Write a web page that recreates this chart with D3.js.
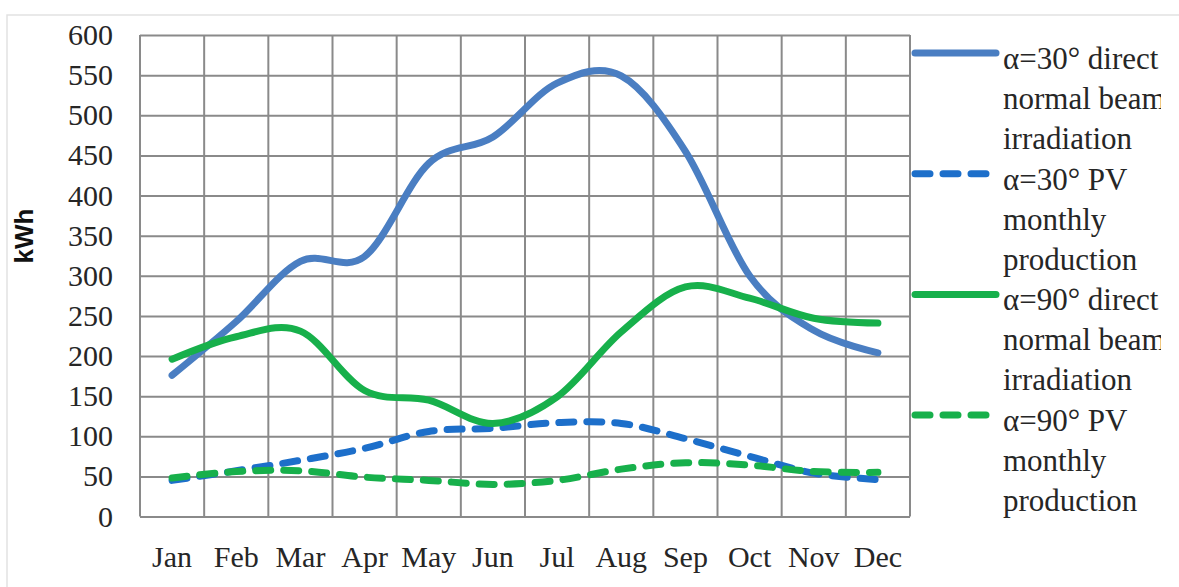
<!DOCTYPE html>
<html>
<head>
<meta charset="utf-8">
<script src="https://cdn.jsdelivr.net/npm/d3@7"></script>
<style>
  body { margin: 0; background: #fff; }
  svg { display: block; }
  .tick text { font-family: "Liberation Serif", "Times New Roman", serif; fill: #262626; }
  .legend text { font-family: "Liberation Serif", "Times New Roman", serif; fill: #262626; font-size: 31px; }
</style>
</head>
<body>
<svg id="chart"></svg>
<script>
// months on the x axis
const months = ["Jan", "Feb", "Mar", "Apr", "May", "Jun", "Jul", "Aug", "Sep", "Oct", "Nov", "Dec"];
const yTicks = [0, 50, 100, 150, 200, 250, 300, 350, 400, 450, 500, 550, 600];

// values (kWh)
const direct30 = [176, 243, 318, 324, 440, 473, 540, 549, 455, 300, 232, 204];
const pv30 = [45, 57, 70, 85, 106, 110, 117, 116, 97, 75, 54, 46];
const direct90 = [196, 224, 231, 157, 145, 116, 149, 230, 286, 272, 247, 241];
const pv90 = [48, 56, 57, 49, 45, 40, 45, 59, 67, 64, 56, 55];

const seriesNames = [
  ["α=30° direct", "normal beam", "irradiation"],
  ["α=30° PV", "monthly", "production"],
  ["α=90° direct", "normal beam", "irradiation"],
  ["α=90° PV", "monthly", "production"]
];

const width = 1179, height = 587;
const margin = { top: 35, left: 140, right: 269, bottom: 70.5 };
const plotW = width - margin.left - margin.right;
const plotH = height - margin.top - margin.bottom;

const series = [
  { values: direct30, color: "#4a7ec2", dash: null },
  { values: pv30, color: "#1d6fca", dash: "15,13" },
  { values: direct90, color: "#17b04b", dash: null },
  { values: pv90, color: "#17b04b", dash: "15,13" }
];

const svg = d3.select("#chart")
    .attr("width", width)
    .attr("height", height);

// faint frame round the picture
svg.append("path")
    .attr("d", "M7," + height + " V15 H" + width)
    .attr("fill", "none")
    .attr("stroke", "#e2e2e2")
    .attr("stroke-width", 1.5);

const g = svg.append("g")
    .attr("transform", "translate(" + margin.left + "," + margin.top + ")");

const x = d3.scaleBand().domain(months).range([0, plotW]);
const y = d3.scaleLinear().domain([0, 600]).range([plotH, 0]);

// horizontal grid
g.append("g")
    .call(d3.axisLeft(y).tickValues(yTicks).tickSize(-plotW).tickFormat(""))
    .call(a => a.select(".domain").remove())
    .call(a => a.selectAll("line").attr("stroke", "#8a8a8a").attr("stroke-width", 2));

// vertical grid on category boundaries
g.append("g")
    .selectAll("line")
    .data(d3.range(months.length + 1))
    .join("line")
    .attr("x1", i => i * x.step())
    .attr("x2", i => i * x.step())
    .attr("y1", 0)
    .attr("y2", plotH)
    .attr("stroke", "#8a8a8a")
    .attr("stroke-width", 2);

// y axis labels
g.append("g")
    .call(d3.axisLeft(y).tickValues(yTicks).tickSize(0).tickPadding(27))
    .call(a => a.select(".domain").remove())
    .call(a => a.selectAll("text").style("font-size", "30px"));

// x axis labels
g.append("g")
    .attr("transform", "translate(0," + plotH + ")")
    .call(d3.axisBottom(x).tickSize(0).tickPadding(29))
    .call(a => a.select(".domain").remove())
    .call(a => a.selectAll("text").style("font-size", "30px"));

// y axis title
svg.append("text")
    .attr("transform", "translate(33,236) rotate(-90)")
    .attr("text-anchor", "middle")
    .style("font-family", "Arial, 'Liberation Sans', sans-serif")
    .style("font-weight", "bold")
    .style("font-size", "26px")
    .style("fill", "#111")
    .text("kWh");

const line = d3.line()
    .x((d, i) => x(months[i]) + x.bandwidth() / 2)
    .y(d => y(d))
    .curve(d3.curveCatmullRom.alpha(0));

series.forEach(s => {
    g.append("path")
        .datum(s.values)
        .attr("fill", "none")
        .attr("stroke", s.color)
        .attr("stroke-width", 7)
        .attr("stroke-linecap", "round")
        .attr("stroke-linejoin", "round")
        .attr("stroke-dasharray", s.dash)
        .attr("d", line);
});

// legend, cut at the right edge like the original
svg.append("clipPath")
    .attr("id", "legendClip")
    .append("rect")
    .attr("x", 900).attr("y", 0)
    .attr("width", 261).attr("height", height);

const legend = svg.append("g")
    .attr("class", "legend")
    .attr("clip-path", "url(#legendClip)");

series.forEach((s, i) => {
    const top = 53 + i * 120.7;
    legend.append("line")
        .attr("x1", 915).attr("x2", s.dash ? 992 : 996)
        .attr("y1", top).attr("y2", top)
        .attr("stroke", s.color)
        .attr("stroke-width", 7)
        .attr("stroke-linecap", "round")
        .attr("stroke-dasharray", s.dash);
    seriesNames[i].forEach((t, k) => {
        legend.append("text")
            .attr("x", 1003)
            .attr("y", top + 16 + k * 40)
            .text(t);
    });
});
</script>
</body>
</html>
